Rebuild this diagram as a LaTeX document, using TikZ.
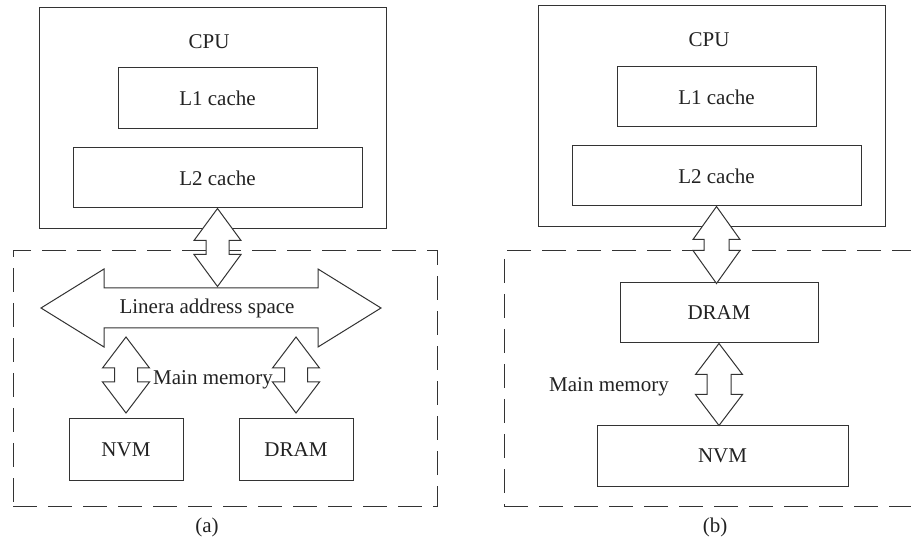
\documentclass[tikz,border=0pt]{standalone}
\usepackage{fontspec}
\setmainfont{Liberation Serif}
\definecolor{linec}{HTML}{333333}
\definecolor{textc}{HTML}{222222}
\newcommand{\vdarrow}[5]{% #1 top tip, #2 length, #3 head length, #4 head half width, #5 shaft half width
  \draw[blk] (#1) -- ++(#4,#3) -- ++({#5-#4},0) -- ++(0,{#2-2*#3}) -- ++({#4-#5},0)
    -- ++(-#4,#3) -- ++(-#4,-#3) -- ++({#4-#5},0) -- ++(0,{-(#2-2*#3)}) -- ++({#5-#4},0) -- cycle;}
\newcommand{\hdarrow}[5]{% #1 left tip, #2 length, #3 head length, #4 head half height, #5 shaft half height
  \draw[blk] (#1) -- ++(#3,-#4) -- ++(0,{#4-#5}) -- ++({#2-2*#3},0) -- ++(0,{#5-#4})
    -- ++(#3,#4) -- ++(-#3,#4) -- ++(0,{#5-#4}) -- ++({-(#2-2*#3)},0) -- ++(0,{#4-#5}) -- cycle;}
\begin{document}
\begin{tikzpicture}[x=1pt,y=-1pt,
  box/.style={draw=linec, line width=1pt, rectangle, inner sep=0pt, text=textc,
    font=\fontsize{21}{25}\selectfont},
  membox/.style={draw=linec, line width=1pt, dash pattern=on 24pt off 11pt, rectangle, inner sep=0pt},
  blk/.style={draw=linec, fill=white, line width=1pt, line join=miter},
  lbl/.style={inner sep=0pt, text=textc, font=\fontsize{21}{25}\selectfont}]
\useasboundingbox (0,0) rectangle (911,537);
\clip (0,0) rectangle (911,537);
% ---------- (a) ----------
\node[membox, minimum width=424pt, minimum height=255pt] (memA) at (225,378.5) {};
\node[box, minimum width=347pt, minimum height=221pt] (cpuA) at (212.5,118.5) {};
\node[lbl] (cpuAt) at (209,42) {CPU};
\node[box, minimum width=199pt, minimum height=61pt] (l1A) at (217.5,98.5) {L1 cache};
\node[box, minimum width=289pt, minimum height=60pt] (l2A) at (217.5,178) {L2 cache};
\node[box, minimum width=114pt, minimum height=61pt] (nvmA) at (126,449.5) {NVM};
\node[box, minimum width=114pt, minimum height=61pt] (dramA) at (296,449.5) {DRAM};
\coordinate (lasL) at (41,308);
\coordinate (nvmTip) at (126,337);
\coordinate (dramTip) at (296,337);
\vdarrow{l2A.south}{78}{32}{23.5}{11.5}
\hdarrow{lasL}{340}{63}{39}{20}
\vdarrow{nvmTip}{76}{31}{23.5}{11.5}
\vdarrow{dramTip}{76}{31}{23.5}{11.5}
\node[lbl] (las) at (207,308) {Linera address space};
\node[lbl] (mmA) at (213,380) {Main memory};
\node[lbl] (capA) at (207,527) {(a)};
% ---------- (b) ----------
\node[membox, minimum width=411pt, minimum height=255pt] (memB) at (709.5,378.5) {};
\node[box, minimum width=347pt, minimum height=221pt] (cpuB) at (711.5,116.5) {};
\node[lbl] (cpuBt) at (709,40) {CPU};
\node[box, minimum width=199pt, minimum height=60pt] (l1B) at (716.5,97) {L1 cache};
\node[box, minimum width=289pt, minimum height=60pt] (l2B) at (716.5,176) {L2 cache};
\node[box, minimum width=198pt, minimum height=60pt] (dramB) at (719,313) {DRAM};
\node[box, minimum width=251pt, minimum height=60pt] (nvmB) at (722.5,456) {NVM};
\vdarrow{l2B.south}{77}{33}{23.5}{12.5}
\vdarrow{dramB.south}{82}{31}{23.5}{12}
\node[lbl] (mmB) at (609,387) {Main memory};
\node[lbl] (capB) at (715,527) {(b)};
\end{tikzpicture}
\end{document}
